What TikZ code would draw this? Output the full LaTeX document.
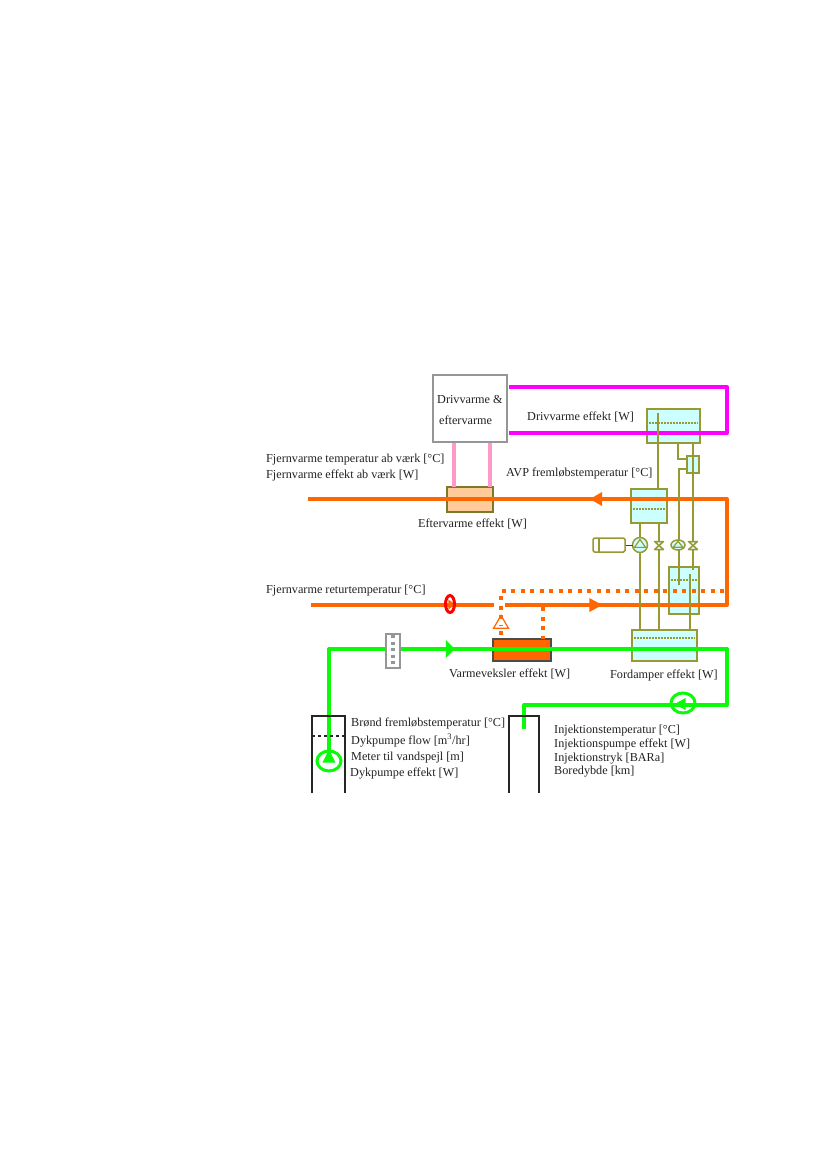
\documentclass[tikz,border=0pt]{standalone}
\usepackage{fontspec}
\setmainfont{Liberation Serif}
\usetikzlibrary{shapes.geometric}
\definecolor{olive line}{HTML}{999933}
\definecolor{tank fill}{HTML}{CCFFFF}
\definecolor{heat orange}{HTML}{FF6600}
\definecolor{well green}{HTML}{0AFA0A}
\definecolor{box gray}{HTML}{969696}
\definecolor{label gray}{HTML}{222222}
\definecolor{drive magenta}{HTML}{FF00FF}
\definecolor{drive pink}{HTML}{FF99CC}
\definecolor{after fill}{HTML}{FFCC99}
\definecolor{ring red}{HTML}{FF0000}
\begin{document}
\begin{tikzpicture}[x=1pt,y=-1pt,
  box node/.style={rectangle,inner sep=0pt,outer sep=0pt,line width=1.5pt},
  tank node/.style={box node,draw=olive line,fill=tank fill},
  label node/.style={anchor=west,inner sep=0pt,yshift=-1.5pt,text=label gray,font=\fontsize{12.2}{14}\selectfont},
  pump node/.style={circle,inner sep=0pt,outer sep=0pt,draw=olive line,fill=tank fill,line width=1.5pt,minimum size=15pt},
  valve node/.style={inner sep=0pt,outer sep=0pt,minimum size=1pt},
  head node/.style={isosceles triangle,isosceles triangle stretches,inner sep=0pt,outer sep=0pt,minimum height=12pt,minimum width=14pt},
  ring node/.style={ellipse,inner sep=0pt,outer sep=0pt,draw=well green,line width=3pt,minimum width=24pt,minimum height=20pt},
  magenta pipe/.style={draw=drive magenta,line width=4pt,line join=round},
  pink pipe/.style={draw=drive pink,line width=4pt},
  orange pipe/.style={draw=heat orange,line width=4pt,line join=round},
  bypass pipe/.style={draw=heat orange,line width=4pt,dash pattern=on 4pt off 5.5pt},
  green pipe/.style={draw=well green,line width=4pt,line join=round},
  olive pipe/.style={draw=olive line,line width=1.5pt},
  well wall/.style={draw=black!85,line width=1.3pt},
  level line/.style={draw=olive line,line width=1.2pt,dash pattern=on 1.5pt off 1.5pt}]

  \useasboundingbox (0,0) rectangle (827,1169);

  % tanks and boxes
  \node[tank node,minimum width=53pt,minimum height=34pt] (top tank) at (673.5,426) {};
  \node[tank node,minimum width=36pt,minimum height=34pt] (mid tank) at (649,506) {};
  \node[tank node,minimum width=30pt,minimum height=47pt] (low tank) at (684,590.5) {};
  \node[tank node,minimum width=65pt,minimum height=31pt] (fordamper) at (664.5,645.5) {};
  \node[tank node,minimum width=12pt,minimum height=17pt] (small tank) at (693,464.5) {};
  \node[box node,draw=box gray,fill=white,line width=2.5pt,minimum width=74pt,minimum height=67pt] (drive box) at (470,408.5) {};
  \node[box node,draw=olive line!80!black,fill=after fill,minimum width=46pt,minimum height=25pt] (after box) at (470,499.5) {};
  \node[box node,draw=black!70,fill=heat orange,minimum width=58pt,minimum height=22pt] (hx box) at (522,650) {};

  \draw[level line] (649,423) -- (698,423);
  \draw[level line] (633,509) -- (665,509);
  \draw[level line] (671,580) -- (697,580);
  \draw[level line] (634,638) -- (695,638);

  % junction points
  \coordinate (mag a) at (508.5,387);
  \coordinate (mag b) at (727,387);
  \coordinate (mag c) at (727,433);
  \coordinate (mag d) at (508.5,433);
  \coordinate (hot in) at (727,499);
  \coordinate (hot out) at (308,499);
  \coordinate (ret corner) at (727,605);
  \coordinate (ret out) at (311,605);
  \coordinate (by right) at (724,591);
  \coordinate (by corner) at (501,591);
  \coordinate (by tee) at (543,607);
  \coordinate (well up) at (329,761);
  \coordinate (well corner) at (329,649);
  \coordinate (gr a) at (727,649);
  \coordinate (gr b) at (727,705);
  \coordinate (gr c) at (524,705);
  \coordinate (gr d) at (524,729);

  % thick pipes
  \draw[magenta pipe] (mag a) -- (mag b) -- (mag c) -- (mag d);
  \draw[pink pipe] (454,443) -- (454,487);
  \draw[pink pipe] (490,443) -- (490,487);
  \draw[orange pipe] (hot out) -- (hot in) -- (ret corner) -- (ret out);
  \fill[white] (494,602) rectangle (505,608);
  \node[head node,fill=heat orange,shape border rotate=180] (hot head) at (598,499) {};
  \node[head node,fill=heat orange,minimum height=13pt] (ret head) at (593.5,605) {};
  \draw[bypass pipe] (by right) -- (by corner) -- (501,625);
  \draw[bypass pipe] (by tee) -- (543,639);
  \draw[bypass pipe] (501,631) -- (501,639);
  \node[isosceles triangle,isosceles triangle stretches,shape border rotate=90,draw=heat orange,line width=1.2pt,inner sep=0pt,minimum height=13pt,minimum width=15pt] (by valve) at (501,624) {};
  \draw[green pipe] (well up) -- (well corner) -- (gr a) -- (gr b) -- (gr c) -- (gr d);
  \node[head node,fill=well green,minimum height=9pt,minimum width=18pt] (green head) at (449.5,649) {};

  \node[head node,fill=heat orange,minimum height=7pt,minimum width=10pt] (red mark) at (451,604.5) {};
  \node[ellipse,draw=ring red,line width=3pt,inner sep=0pt,minimum width=9pt,minimum height=17pt] (red ring) at (450,604) {};
  \node[box node,draw=box gray,fill=white,line width=2pt,minimum width=14pt,minimum height=34pt] (filter box) at (393,650.5) {};
  \draw[draw=box gray,line width=3.5pt,dash pattern=on 3pt off 3.5pt] (393,635) -- (393,666);

  % thin connectors
  \coordinate (top stub) at (658,413);
  \coordinate (link a) at (678,459);
  \coordinate (link b) at (679,469);
  \coordinate (low stub) at (679,585);
  \coordinate (ford stub) at (690,574);
  \draw[olive pipe] (top stub) -- (658,489);
  \draw[olive pipe] (678,443) -- (link a) -- (small tank.west |- link a);
  \draw[olive pipe] (small tank.west |- link b) -- (link b) -- (low stub);
  \draw[olive pipe] (693,443) -- (693,570);
  \draw[olive pipe] (ford stub) -- (690,630);
  \draw[olive pipe] (640,523) -- (640,630);
  \draw[olive pipe] (659,523) -- (659,630);

  % compressor, pumps and valves
  \node[rectangle,rounded corners=1.5pt,draw=olive line,fill=white,line width=1.5pt,inner sep=0pt,minimum width=32pt,minimum height=14pt] (motor) at (609,545) {};
  \draw[olive pipe] (599,538) -- (599,552);
  \node[pump node] (pump one) at (640,545) {};
  \draw[black!75,line width=1pt] (motor) -- (pump one);
  \node[isosceles triangle,isosceles triangle stretches,shape border rotate=90,draw=olive line,line width=1.2pt,inner sep=0pt,minimum height=8pt,minimum width=11pt] (pump one mark) at (640,544.5) {};
  \node[ellipse,draw=olive line,fill=tank fill,line width=1.5pt,inner sep=0pt,minimum width=14pt,minimum height=10pt] (pump two) at (678,545) {};
  \node[isosceles triangle,isosceles triangle stretches,shape border rotate=90,draw=olive line,line width=1.2pt,inner sep=0pt,minimum height=6pt,minimum width=10pt] (pump two mark) at (678,545) {};
  \node[valve node] (valve one) at (659,545.5) {};
  \node[valve node] (valve two) at (693,545.5) {};
  \foreach \v in {valve one,valve two}
    \draw[olive pipe,fill=tank fill,line join=round] ([shift={(-4.5,-4)}]\v.center) -- ([shift={(4.5,-4)}]\v.center)
      -- ([shift={(-4.5,4)}]\v.center) -- ([shift={(4.5,4)}]\v.center) -- cycle;

  % wells
  \draw[well wall] (312,793) -- (312,716) -- (345,716) -- (345,793);
  \draw[well wall,dashed] (312,736) -- (345,736);
  \draw[well wall] (509,793) -- (509,716) -- (539,716) -- (539,793);
  \node[ring node,fill=white] (well pump) at (329,761) {};
  \node[head node,fill=well green,shape border rotate=90,minimum height=13pt,minimum width=13pt] (well mark) at (329,758.5) {};
  \node[ring node] (inj pump) at (683,703) {};
  \node[head node,fill=well green,shape border rotate=180,minimum height=11pt,minimum width=12pt] (inj mark) at (682,704) {};

  % texts
  \node[label node] (drive one) at (437,397.5) {Drivvarme \&};
  \node[label node] (drive two) at (439,419) {eftervarme};
  \node[label node] (drive effect) at (527,415.5) {Drivvarme effekt [W]};
  \node[label node] (hot temp) at (266,458) {Fjernvarme temperatur ab værk [°C]};
  \node[label node] (hot effect) at (266,474) {Fjernvarme effekt ab værk [W]};
  \node[label node] (avp temp) at (506,472) {AVP fremløbstemperatur [°C]};
  \node[label node] (after effect) at (418,523) {Eftervarme effekt [W]};
  \node[label node] (ret temp) at (266,589) {Fjernvarme returtemperatur [°C]};
  \node[label node] (hx effect) at (449,673) {Varmeveksler effekt [W]};
  \node[label node] (ford effect) at (610,674) {Fordamper effekt [W]};
  \node[label node] (well temp) at (351,722) {Brønd fremløbstemperatur [°C]};
  \node[label node] (well flow) at (351,739) {Dykpumpe flow [m\textsuperscript{3}/hr]};
  \node[label node] (well level) at (351,756) {Meter til vandspejl [m]};
  \node[label node] (well effect) at (350,772) {Dykpumpe effekt [W]};
  \node[label node] (inj temp) at (554,729) {Injektionstemperatur [°C]};
  \node[label node] (inj effect) at (554,743) {Injektionspumpe effekt [W]};
  \node[label node] (inj press) at (554,757) {Injektionstryk [BARa]};
  \node[label node] (inj depth) at (554,770) {Boredybde [km]};
\end{tikzpicture}
\end{document}
